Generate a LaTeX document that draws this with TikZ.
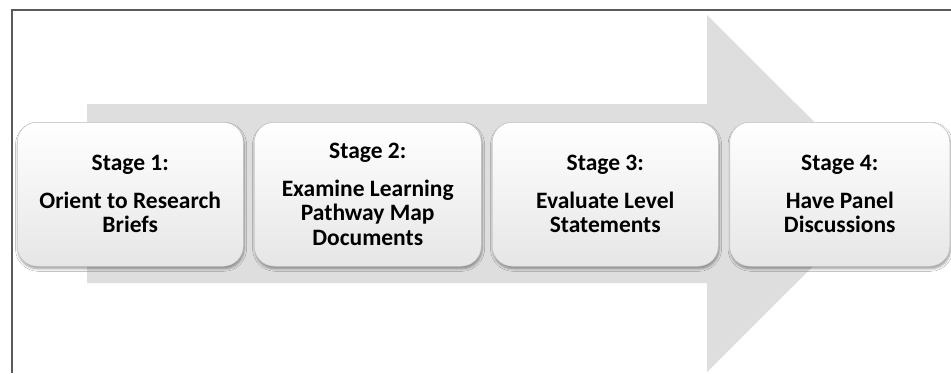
\documentclass[tikz,border=0pt]{standalone}
\usepackage{fontspec}
\setmainfont{Carlito}
\usetikzlibrary{shadows.blur}
\definecolor{arrowgray}{HTML}{DEDEDE}
\definecolor{framegray}{HTML}{5A5A5A}
\definecolor{boxedge}{HTML}{C4C4C4}
\definecolor{boxbottom}{HTML}{E6E6E6}
\tikzset{
  stagebox/.style={
    draw=boxedge, line width=0.5pt, rounded corners=20pt,
    top color=white, middle color=white!97!black, bottom color=boxbottom,
    anchor=north west, minimum height=144pt, inner sep=2pt,
    align=center, font=\bfseries\fontsize{23.5}{24.5}\selectfont,
    blur shadow={shadow xshift=0.8pt, shadow yshift=-2.5pt, shadow blur steps=6, shadow opacity=40, shadow blur radius=2.5pt}
  },
  bigarrow/.style={fill=arrowgray, draw=none},
  frameline/.style={draw=framegray, line width=1.1pt}
}
\begin{document}
\begin{tikzpicture}[x=1pt,y=-1pt]
\useasboundingbox (0,0) rectangle (951,373);
\fill[white] (0,0) rectangle (951,373);
% frame
\coordinate (fb) at (12,373);
\coordinate (fc) at (12,10);
\coordinate (fr) at (951,10);
\draw[frameline] (fb) -- (fc) -- (fr);
% big arrow
\fill[bigarrow] (87,104) -- (707,104) -- (707,15) -- (886,193.5) -- (707,372) -- (707,283) -- (87,283) -- cycle;
% stages
\node[stagebox, minimum width=226pt] (s1) at (17,122) {Stage 1:\\[13pt]Orient to Research\\Briefs};
\node[stagebox, minimum width=227pt] (s2) at (254,122) {Stage 2:\\[13pt]Examine Learning\\Pathway Map\\Documents};
\node[stagebox, minimum width=226pt] (s3) at (492,122) {Stage 3:\\[13pt]Evaluate Level\\Statements};
\node[stagebox, minimum width=220pt] (s4) at (729.5,122) {Stage 4:\\[13pt]Have Panel\\Discussions};
\end{tikzpicture}
\end{document}
